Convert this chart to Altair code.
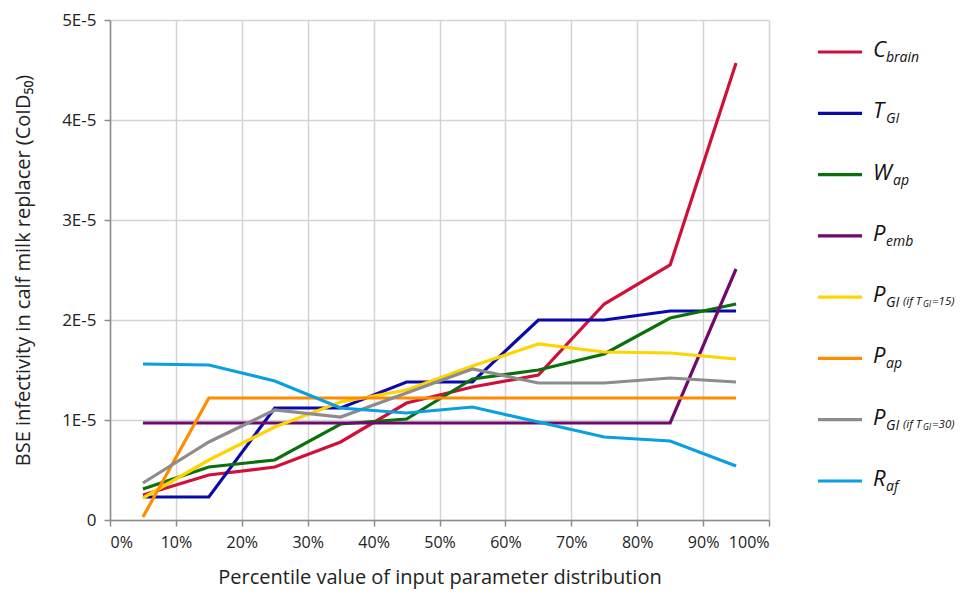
import altair as alt
import pandas as pd

percentiles = [0.05, 0.15, 0.25, 0.35, 0.45, 0.55, 0.65, 0.75, 0.85, 0.95]

series_names = ["C_brain", "T_GI", "W_ap", "P_emb", "P_GI15", "P_ap", "P_GI30", "R_af"]
colors = ["#D0103A", "#0A0AAA", "#0A700A", "#6E0A6E", "#FFD400", "#FF8C00", "#8C8C8C", "#0AA0E0"]

c_brain = [0.25, 0.45, 0.53, 0.78, 1.17, 1.33, 1.45, 2.16, 2.55, 4.57]
t_gi = [0.23, 0.23, 1.12, 1.12, 1.38, 1.38, 2.00, 2.00, 2.09, 2.09]
w_ap = [0.31, 0.53, 0.60, 0.96, 1.01, 1.41, 1.50, 1.66, 2.02, 2.16]
p_emb = [0.97, 0.97, 0.97, 0.97, 0.97, 0.97, 0.97, 0.97, 0.97, 2.51]
p_gi15 = [0.22, 0.60, 0.93, 1.18, 1.30, 1.54, 1.76, 1.68, 1.67, 1.61]
p_ap = [0.03, 1.22, 1.22, 1.22, 1.22, 1.22, 1.22, 1.22, 1.22, 1.22]
p_gi30 = [0.37, 0.78, 1.10, 1.03, 1.27, 1.51, 1.37, 1.37, 1.42, 1.38]
r_af = [1.56, 1.55, 1.39, 1.12, 1.07, 1.13, 0.98, 0.83, 0.79, 0.54]

values_by_series = [c_brain, t_gi, w_ap, p_emb, p_gi15, p_ap, p_gi30, r_af]

legend_main = ["C", "T", "W", "P", "P", "P", "P", "R"]
legend_sub = ["brain", "GI", "ap", "emb", "GI", "ap", "GI", "af"]
legend_ext1 = ["", "", "", "", "(if T", "", "(if T", ""]
legend_ext2 = ["", "", "", "", "GI", "", "GI", ""]
legend_ext3 = ["", "", "", "", "=15)", "", "=30)", ""]

x_ticks = [0, 0.1, 0.2, 0.3, 0.4, 0.5, 0.6, 0.7, 0.8, 0.9, 1.0]
y_ticks = [0, 1e-5, 2e-5, 3e-5, 4e-5, 5e-5]

rows = []
for name, vals in zip(series_names, values_by_series):
    for p, v in zip(percentiles, vals):
        rows.append({"series": name, "pct": p, "value": v * 1e-5})
df = pd.DataFrame(rows)

ldf = pd.DataFrame({
    "series": series_names,
    "main": legend_main,
    "sub": legend_sub,
    "ext1": legend_ext1,
    "ext2": legend_ext2,
    "ext3": legend_ext3,
})

FONT = "Open Sans"

color_enc = alt.Color("series:N", scale=alt.Scale(domain=series_names, range=colors), legend=None)

lines = alt.Chart(df).mark_line(strokeWidth=3.2).encode(
    x=alt.X("pct:Q", scale=alt.Scale(domain=[0, 1], nice=False),
            axis=alt.Axis(values=x_ticks, format="%", title="Percentile value of input parameter distribution",
                          labelFontSize=16, titleFontSize=20, labelPadding=8, tickSize=6,
                          titleY=63, titleBaseline="alphabetic",
                          labelColor="#222", titleColor="#222", titleFontWeight="normal")),
    y=alt.Y("value:Q", scale=alt.Scale(domain=[0, 5e-5], nice=False),
            axis=alt.Axis(values=y_ticks,
                          labelExpr="datum.value == 0 ? '0' : replace(format(datum.value, '.0e'), 'e', 'E')",
                          title="BSE infectivity in calf milk replacer (CoID₅₀)",
                          labelFontSize=17, titleFontSize=20, labelPadding=8, tickSize=6,
                          titleX=-87, titleY=250, titleAngle=-90, titleBaseline="middle", titleAlign="center",
                          labelColor="#222", titleColor="#222", titleFontWeight="normal")),
    color=color_enc,
)

ly = alt.Y("series:N", scale=alt.Scale(type="point", domain=series_names, range=[32, 461], padding=0), axis=None)

legend_lines = alt.Chart(ldf).mark_rule(strokeWidth=3.2).encode(
    x=alt.value(708), x2=alt.value(752), y=ly, color=color_enc
)

legend_main_t = alt.Chart(ldf).mark_text(align="left", baseline="middle", fontSize=22, fontStyle="italic",
                                         font=FONT, dy=-2, color="#111").encode(
    x=alt.value(763), y=ly, text="main:N"
)

legend_sub_t = alt.Chart(ldf).transform_filter("datum.main != 'W'").mark_text(
    align="left", baseline="middle", fontSize=14, fontStyle="italic", font=FONT, dy=6, color="#111").encode(
    x=alt.value(776), y=ly, text="sub:N"
)

legend_sub_w = alt.Chart(ldf).transform_filter("datum.main == 'W'").mark_text(
    align="left", baseline="middle", fontSize=14, fontStyle="italic", font=FONT, dy=6, color="#111").encode(
    x=alt.value(783), y=ly, text="sub:N"
)

legend_ext1_t = alt.Chart(ldf).mark_text(
    align="left", baseline="middle", fontSize=11.5, fontStyle="italic", font=FONT, dy=5, color="#111").encode(
    x=alt.value(793), y=ly, text="ext1:N"
)
legend_ext2_t = alt.Chart(ldf).mark_text(
    align="left", baseline="middle", fontSize=8.5, fontStyle="italic", font=FONT, dy=7, color="#111").encode(
    x=alt.value(813), y=ly, text="ext2:N"
)
legend_ext3_t = alt.Chart(ldf).mark_text(
    align="left", baseline="middle", fontSize=11.5, fontStyle="italic", font=FONT, dy=5, color="#111").encode(
    x=alt.value(822), y=ly, text="ext3:N"
)

chart = alt.layer(
    lines, legend_lines, legend_main_t, legend_sub_t, legend_sub_w, legend_ext1_t, legend_ext2_t, legend_ext3_t
).resolve_scale(y="independent").properties(
    width=659, height=500,
    autosize=alt.AutoSizeParams(type="none"),
    padding={"left": 102, "top": 12, "right": 192, "bottom": 72},
).configure(font=FONT).configure_view(stroke=None).configure_axis(
    gridColor="#D4D4D4", gridWidth=1.5, domainColor="#8C8C8C", domainWidth=1.5,
    tickColor="#8C8C8C", tickWidth=1.5,
)

chart.save("out.html", embed_options={"renderer": "svg", "actions": False})
